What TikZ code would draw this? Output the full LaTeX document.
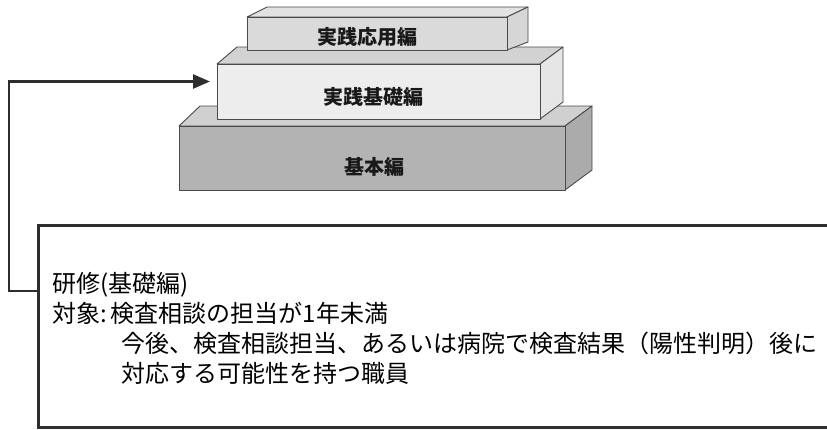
\documentclass[tikz,border=0pt]{standalone}
\usepackage{fontspec}
\newfontfamily\jp{Noto Sans CJK JP}
\usetikzlibrary{arrows.meta}
\definecolor{edgegray}{HTML}{4A4A4A}
\definecolor{topfront}{HTML}{DADADA}
\definecolor{toptop}{HTML}{E2E2E2}
\definecolor{topside}{HTML}{D6D6D6}
\definecolor{midfront}{HTML}{EDEDED}
\definecolor{midtop}{HTML}{D2D2D2}
\definecolor{midside}{HTML}{E6E6E6}
\definecolor{botfront}{HTML}{B3B3B3}
\definecolor{bottop}{HTML}{D0D0D0}
\definecolor{botside}{HTML}{ABABAB}
\definecolor{linegray}{HTML}{2E2E2E}
\tikzset{
  slabface/.style={draw=edgegray, line width=0.9pt, line join=round},
  frontface/.style={slabface, inner sep=0pt, outer sep=0pt, anchor=north west},
  slablabel/.style={font=\jp\bfseries\fontsize{20}{20}\selectfont, text=black!90, inner sep=0pt},
  infobox/.style={draw=linegray, line width=3pt, inner sep=0pt, outer sep=0pt, anchor=north west},
  infotext/.style={font=\jp\fontsize{24}{30}\selectfont, text=black, inner sep=0pt, anchor=base west},
  conn/.style={draw=linegray, line width=2.6pt, line join=miter,
    -{Triangle[length=17pt,width=14pt]}}
}
\begin{document}
\begin{tikzpicture}[x=1pt,y=-1pt]
\useasboundingbox (0,0) rectangle (827,429);
\clip (0,0) rectangle (827,429);

% bottom slab
\path[slabface, fill=bottop] (179,126) -- (200,106) -- (592,106) -- (565,126) -- cycle;
\path[slabface, fill=botside] (565,126) -- (592,106) -- (592,170) -- (565,190) -- cycle;
\node[frontface, fill=botfront, minimum width=386pt, minimum height=64pt] (botf) at (179,126) {};
\node[slablabel] (botl) at (374,167) {基本編};

% middle slab
\path[slabface, fill=midtop] (217,64) -- (237,47) -- (563,47) -- (540,64) -- cycle;
\path[slabface, fill=midside] (540,64) -- (563,47) -- (563,102) -- (540,119) -- cycle;
\node[frontface, fill=midfront, minimum width=323pt, minimum height=55pt] (midf) at (217,64) {};
\node[slablabel] (midl) at (373,97) {実践基礎編};

% top slab
\path[slabface, fill=toptop] (247,17) -- (267,7) -- (528,7) -- (507,17) -- cycle;
\path[slabface, fill=topside] (507,17) -- (528,7) -- (528,42) -- (507,50) -- cycle;
\node[frontface, fill=topfront, minimum width=260pt, minimum height=33pt] (topf) at (247,17) {};
\node[slablabel] (topl) at (367,37) {実践応用編};

% information box (runs past the right edge)
\node[infobox, minimum width=860pt, minimum height=202pt] (info) at (38,225) {};
\node[infotext] (t1) at (52,292) {研修(基礎編)};
\node[infotext] (t2) at (52,322) {対象:\,検査相談の担当が1年未満};
\node[infotext] (t3) at (121,352) {今後、検査相談担当、あるいは病院で検査結果（陽性判明）後に};
\node[infotext] (t4) at (121,382) {対応する可能性を持つ職員};

% connector
\draw[conn] ([yshift=-66pt]info.north west) -- ++(-29,0) |- ([xshift=-7pt,yshift=10pt]midf.west);
\end{tikzpicture}
\end{document}
